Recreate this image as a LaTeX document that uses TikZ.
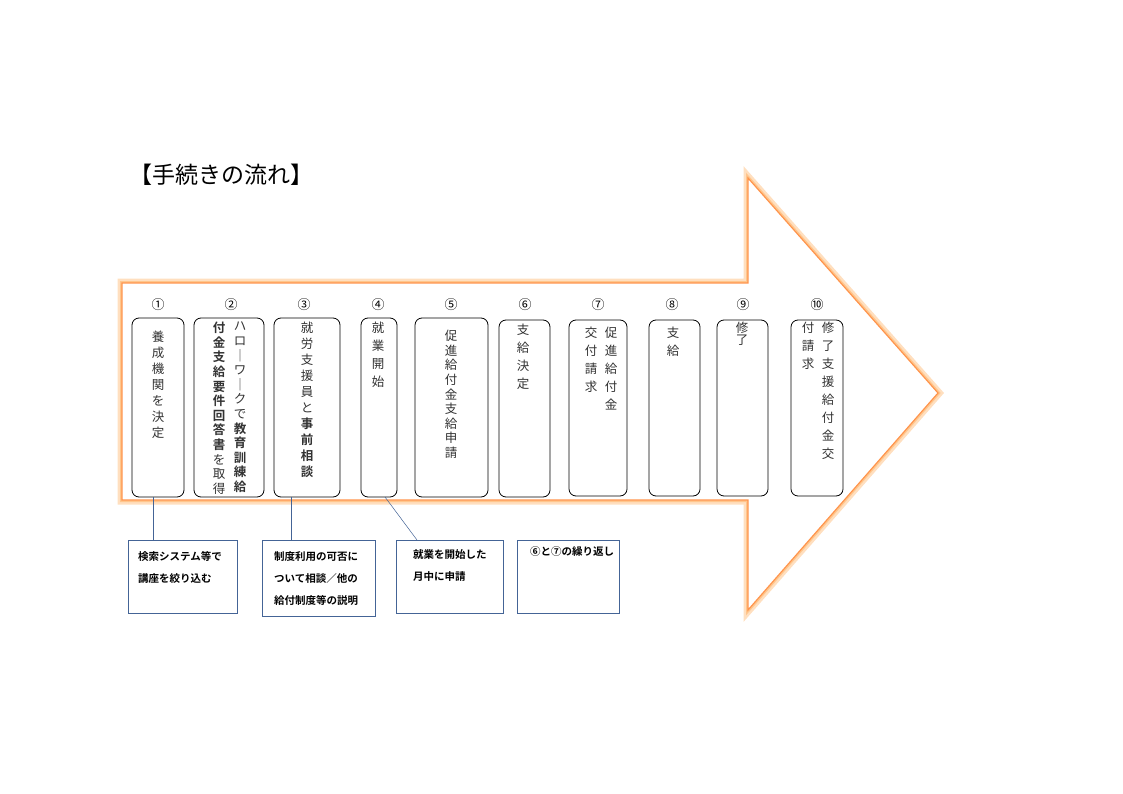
\documentclass[tikz,border=0pt]{standalone}
\usepackage{fontspec}
\setmainfont{Noto Sans CJK JP}[BoldFont={Noto Sans CJK JP Bold}]
\usepackage{tikz}
\definecolor{notecol}{RGB}{68,100,150}
\tikzset{
  stepbox/.style={draw, rounded corners=7pt, line width=0.8pt},
  notebox/.style={draw=notecol, line width=0.7pt},
  vcol/.style={align=center, font=\fontsize{12.5}{16}\selectfont, inner sep=0pt, anchor=north, text=black!80},
  tight/.style={font=\fontsize{12.5}{14.6}\selectfont},
  nnum/.style={font=\fontsize{13}{13}\selectfont},
  ntext/.style={align=left, font=\fontsize{10.5}{22}\selectfont\bfseries, anchor=north west, inner sep=0pt}
}
\begin{document}
\begin{tikzpicture}[x=1pt,y=-1pt]
\useasboundingbox (0,0) rectangle (1123,794);
% arrow
\draw[orange!25, line width=9pt, line join=miter]
  (122,283) -- (748,283) -- (748,178) -- (938,393) -- (748,610) -- (748,500) -- (122,500) -- cycle;
\draw[orange!45, line width=4pt, line join=miter]
  (122,283) -- (748,283) -- (748,178) -- (938,393) -- (748,610) -- (748,500) -- (122,500) -- cycle;
\draw[orange!80!red!70, line width=1.2pt, fill=white]
  (122,283) -- (748,283) -- (748,178) -- (938,393) -- (748,610) -- (748,500) -- (122,500) -- cycle;
\node[anchor=west, font=\fontsize{23}{23}\selectfont] (title) at (126,175) {【手続きの流れ】};

% step boxes
\draw[stepbox] (132,318) rectangle (184,497);
\draw[stepbox] (194,318) rectangle (264,497);
\draw[stepbox] (274,318) rectangle (340,497);
\draw[stepbox] (361,318) rectangle (397,497);
\draw[stepbox] (415,318) rectangle (488,497);
\draw[stepbox] (499,320) rectangle (550,497);
\draw[stepbox] (569,320) rectangle (627,496);
\draw[stepbox] (649,320) rectangle (700,496);
\draw[stepbox] (717,320) rectangle (768,496);
\draw[stepbox] (791,320) rectangle (843,496);

% numbers
\foreach \x/\n in {158/①,231/②,304/③,378/④,451/⑤,525/⑥,598/⑦,672/⑧,743/⑨,817/⑩}
  \node[nnum] at (\x,305) {\n};

% vertical texts
\node[vcol] (t1) at (158,331) {養\\成\\機\\関\\を\\決\\定};
\node[vcol, tight] (t2a) at (240,322) {ハ\\ロ\\｜\\ワ\\｜\\ク\\で\\\textbf{教}\\\textbf{育}\\\textbf{訓}\\\textbf{練}\\\textbf{給}};
\node[vcol, tight] (t2b) at (219,322) {\textbf{付}\\\textbf{金}\\\textbf{支}\\\textbf{給}\\\textbf{要}\\\textbf{件}\\\textbf{回}\\\textbf{答}\\\textbf{書}\\を\\取\\得};
\node[vcol] (t3) at (307,322) {就\\労\\支\\援\\員\\と\\\textbf{事}\\\textbf{前}\\\textbf{相}\\\textbf{談}};
\node[vcol, font=\fontsize{12.5}{18}\selectfont] (t4) at (378,322) {就\\業\\開\\始};
\node[vcol, tight] (t5) at (451,330) {促\\進\\給\\付\\金\\支\\給\\申\\請};
\node[vcol, font=\fontsize{12.5}{18}\selectfont] (t6) at (523,324) {支\\給\\決\\定};
\node[vcol, font=\fontsize{12.5}{18}\selectfont] (t7a) at (611,327) {促\\進\\給\\付\\金};
\node[vcol, font=\fontsize{12.5}{18}\selectfont] (t7b) at (591,327) {交\\付\\請\\求};
\node[vcol, font=\fontsize{12.5}{18}\selectfont] (t8) at (673,327) {支\\給};
\node[vcol, font=\fontsize{12.5}{12}\selectfont] (t9) at (742,322) {修\\了};
\node[vcol, font=\fontsize{12.5}{18}\selectfont] (t10a) at (828,322) {修\\了\\支\\援\\給\\付\\金\\交};
\node[vcol, font=\fontsize{12.5}{18}\selectfont] (t10b) at (808,322) {付\\請\\求};

% notes
\draw[notebox] (128,540) rectangle (237,613);
\draw[notebox] (262,540) rectangle (375,616);
\draw[notebox] (396,540) rectangle (503,613);
\draw[notebox] (517,540) rectangle (619,613);
\node[ntext] (n1) at (138,551) {検索システム等で\\講座を絞り込む};
\node[ntext] (n2) at (274,551) {制度利用の可否に\\ついて相談／他の\\給付制度等の説明};
\node[ntext] (n3) at (413,549) {就業を開始した\\月中に申請};
\node[ntext] (n4) at (530,546) {⑥と⑦の繰り返し};
\draw[notecol, line width=0.9pt] (153,497) -- (153,540);
\draw[notecol, line width=0.9pt] (291,497) -- (291,540);
\draw[notecol, line width=0.5pt] (385,497) -- (417,540);
\end{tikzpicture}
\end{document}
